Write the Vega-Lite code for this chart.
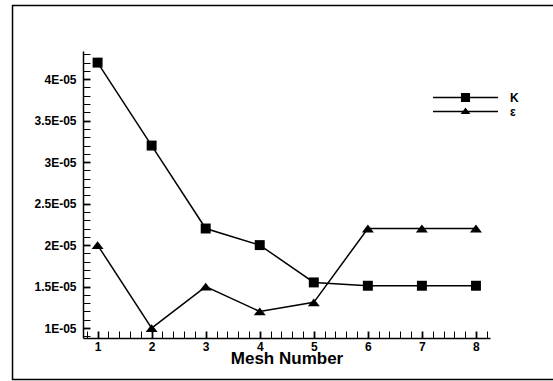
{
  "$schema": "https://vega.github.io/schema/vega-lite/v6.json",
  "width": 407,
  "height": 287,
  "autosize": {"type": "none"},
  "padding": {"left": 83, "top": 51, "right": 63, "bottom": 43},
  "background": "white",
  "config": {
    "view": {"stroke": null},
    "font": "Liberation Sans",
    "axis": {
      "grid": false,
      "domainColor": "black",
      "domainWidth": 1.5,
      "tickColor": "black",
      "labelColor": "black",
      "labelFont": "Liberation Sans",
      "labelFontWeight": "bold",
      "labelFontSize": 12,
      "titleColor": "black"
    },
    "legend": {
      "labelFont": "Liberation Sans",
      "labelFontWeight": "bold",
      "labelFontSize": 12,
      "labelColor": "black",
      "padding": 0
    }
  },
  "data": {
    "values": [
      {"mesh": 1, "series": "K", "value": 4.2e-5},
      {"mesh": 2, "series": "K", "value": 3.2e-5},
      {"mesh": 3, "series": "K", "value": 2.2e-5},
      {"mesh": 4, "series": "K", "value": 2.0e-5},
      {"mesh": 5, "series": "K", "value": 1.55e-5},
      {"mesh": 6, "series": "K", "value": 1.51e-5},
      {"mesh": 7, "series": "K", "value": 1.51e-5},
      {"mesh": 8, "series": "K", "value": 1.51e-5},
      {"mesh": 1, "series": "ε", "value": 2.0e-5},
      {"mesh": 2, "series": "ε", "value": 1.0e-5},
      {"mesh": 3, "series": "ε", "value": 1.5e-5},
      {"mesh": 4, "series": "ε", "value": 1.2e-5},
      {"mesh": 5, "series": "ε", "value": 1.31e-5},
      {"mesh": 6, "series": "ε", "value": 2.2e-5},
      {"mesh": 7, "series": "ε", "value": 2.2e-5},
      {"mesh": 8, "series": "ε", "value": 2.2e-5}
    ]
  },
  "layer": [
    {
      "data": {"values": [{}]},
      "mark": {"type": "rect", "filled": false, "stroke": "black", "strokeWidth": 1.5},
      "encoding": {
        "x": {"datum": -0.574, "type": "quantitative", "scale": {"domain": [0.73, 8.26], "nice": false, "zero": false}, "axis": null},
        "x2": {"datum": 10.5},
        "y": {"datum": 4.889e-5, "type": "quantitative", "scale": {"domain": [0.88e-5, 4.34e-5], "nice": false, "zero": false}, "axis": null},
        "y2": {"datum": 0.3797e-5}
      }
    },
    {
      "mark": {"type": "line", "color": "black", "strokeWidth": 1.5},
      "encoding": {
        "x": {"field": "mesh", "type": "quantitative", "scale": {"domain": [0.73, 8.26], "nice": false, "zero": false}, "axis": null},
        "y": {"field": "value", "type": "quantitative", "scale": {"domain": [0.88e-5, 4.34e-5], "nice": false, "zero": false}, "axis": null},
        "detail": {"field": "series"}
      }
    },
    {
      "mark": {"type": "point", "filled": true, "color": "black", "opacity": 1, "size": 144},
      "encoding": {
        "x": {"field": "mesh", "type": "quantitative", "scale": {"domain": [0.73, 8.26], "nice": false, "zero": false},
          "axis": {"orient": "bottom", "values": [0.8,1,1.2,1.4,1.6,1.8,2,2.2,2.4,2.6,2.8,3,3.2,3.4,3.6,3.8,4,4.2,4.4,4.6,4.8,5,5.2,5.4,5.6,5.8,6,6.2,6.4,6.6,6.8,7,7.2,7.4,7.6,7.8,8,8.2],
            "labelExpr": "abs(datum.value - round(datum.value)) < 0.01 ? format(datum.value, 'd') : ''",
            "labelPadding": 10,
            "tickSize": -7,
            "tickWidth": {"condition": {"test": "abs(datum.value - round(datum.value)) < 0.01", "value": 1.8}, "value": 1},
            "encode": {"ticks": {"update": {
              "y2": {"signal": "abs(datum.value - round(datum.value)) < 0.01 ? -7 : -3.5"}}}},
            "title": "Mesh Number", "titleFont": "Liberation Sans", "titleFontWeight": "bold", "titleFontSize": 17, "titlePadding": -2}},
        "y": {"field": "value", "type": "quantitative", "scale": {"domain": [0.88e-5, 4.34e-5], "nice": false, "zero": false},
          "axis": {"orient": "left", "values": [0.9e-5,1e-5,1.1e-5,1.2e-5,1.3e-5,1.4e-5,1.5e-5,1.6e-5,1.7e-5,1.8e-5,1.9e-5,2e-5,2.1e-5,2.2e-5,2.3e-5,2.4e-5,2.5e-5,2.6e-5,2.7e-5,2.8e-5,2.9e-5,3e-5,3.1e-5,3.2e-5,3.3e-5,3.4e-5,3.5e-5,3.6e-5,3.7e-5,3.8e-5,3.9e-5,4e-5,4.1e-5,4.2e-5,4.3e-5],
            "labelExpr": "abs(datum.value*2e5 - round(datum.value*2e5)) < 0.01 ? format(datum.value*1e5, '~g') + 'E-05' : ''",
            "labelPadding": 14,
            "tickSize": -7,
            "tickWidth": {"condition": {"test": "abs(datum.value*2e5 - round(datum.value*2e5)) < 0.01", "value": 1.8}, "value": 1},
            "encode": {"ticks": {"update": {
              "x2": {"signal": "abs(datum.value*2e5 - round(datum.value*2e5)) < 0.01 ? 7 : 3.5"}}}},
            "title": null}},
        "shape": {"field": "series", "type": "nominal", "scale": {"domain": ["K", "ε"], "range": ["M-0.83,-0.83H0.83V0.83H-0.83Z", "M0,-0.65L1,0.65L-1,0.65Z"]}, "legend": null}
      }
    },
    {
      "transform": [{"filter": "datum.series === 'K'"}],
      "mark": {"type": "point", "filled": true, "color": "black", "opacity": 0, "size": 4225},
      "encoding": {
        "x": {"field": "mesh", "type": "quantitative", "scale": {"domain": [0.73, 8.26], "nice": false, "zero": false}, "axis": null},
        "y": {"field": "value", "type": "quantitative", "scale": {"domain": [0.88e-5, 4.34e-5], "nice": false, "zero": false}, "axis": null},
        "shape": {"field": "series", "type": "nominal",
          "scale": {"domain": ["K"], "range": ["M-1,-0.023H1V0.023H-1Z M-0.14,-0.14H0.14V0.14H-0.14Z"]},
          "legend": {"title": null, "orient": "none", "legendX": 349, "legendY": 13, "labelOffset": 11, "symbolSize": 4225,
            "encode": {"symbols": {"update": {"opacity": {"value": 1}, "fill": {"value": "black"}, "strokeWidth": {"value": 0}}}}}}
      }
    },
    {
      "transform": [{"filter": "datum.series === 'ε'"}],
      "mark": {"type": "point", "filled": true, "color": "black", "opacity": 0, "size": 4225},
      "encoding": {
        "x": {"field": "mesh", "type": "quantitative", "scale": {"domain": [0.73, 8.26], "nice": false, "zero": false}, "axis": null},
        "y": {"field": "value", "type": "quantitative", "scale": {"domain": [0.88e-5, 4.34e-5], "nice": false, "zero": false}, "axis": null},
        "shape": {"field": "series", "type": "nominal",
          "scale": {"domain": ["ε"], "range": ["M-1,-0.023H1V0.023H-1Z M0,-0.12L0.15,0.08L-0.15,0.08Z"]},
          "legend": {"title": null, "orient": "none", "legendX": 349, "legendY": 27, "labelOffset": 11, "symbolSize": 4225,
            "encode": {"symbols": {"update": {"opacity": {"value": 1}, "fill": {"value": "black"}, "strokeWidth": {"value": 0}}}}}}
      }
    }
  ],
  "resolve": {"scale": {"shape": "independent"}, "axis": {"x": "independent", "y": "independent"}}
}
